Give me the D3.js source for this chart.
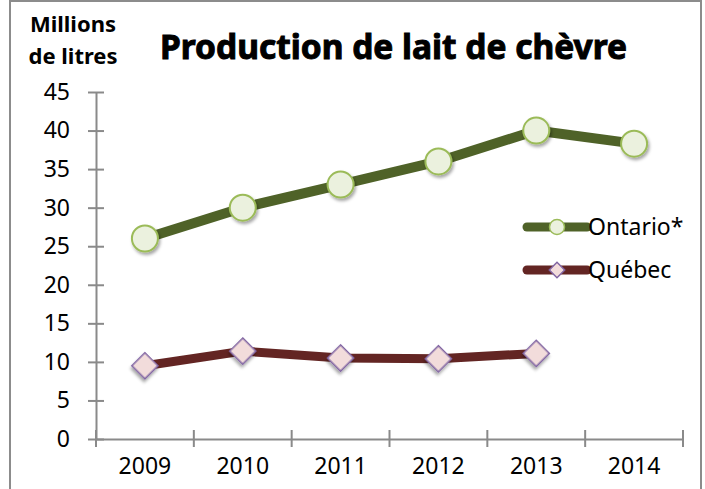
<!DOCTYPE html>
<html>
<head>
<meta charset="utf-8">
<script src="https://cdn.jsdelivr.net/npm/d3@7"></script>
<style>
  body { margin: 0; background: #fff; }
  text { font-family: "Noto Sans", sans-serif; fill: #000; }
</style>
</head>
<body>
<div id="chart"></div>
<script>
// data
var years = ['2009', '2010', '2011', '2012', '2013', '2014'];
var ontario = [26, 30, 33, 36, 40, 38.3];
var quebec = [9.5, 11.4, 10.5, 10.4, 11.1];
var yTicks = [0, 5, 10, 15, 20, 25, 30, 35, 40, 45];

var svgWidth = 705;
var svgHeight = 489;

var svg = d3.select('#chart')
    .append('svg')
    .attr('width', svgWidth)
    .attr('height', svgHeight);

// soft drop shadow for markers
var defs = svg.append('defs');
var shadow = defs.append('filter')
    .attr('id', 'shadow')
    .attr('x', '-50%').attr('y', '-50%')
    .attr('width', '200%').attr('height', '200%');
shadow.append('feDropShadow')
    .attr('dx', 1.5).attr('dy', 2.5)
    .attr('stdDeviation', 1.5)
    .attr('flood-color', '#000')
    .attr('flood-opacity', 0.35);

// chart border
svg.append('rect')
    .attr('x', 10).attr('y', 1)
    .attr('width', 691).attr('height', 500)
    .attr('fill', 'none')
    .attr('stroke', '#8c8c8c')
    .attr('stroke-width', 2);

var x = d3.scaleBand()
    .domain(years)
    .range([96, 683]);

var y = d3.scaleLinear()
    .domain([0, 45])
    .range([439, 92]);

var axisColor = '#8a8a8a';
var labelSize = 23;

// y axis
var yAxis = svg.append('g')
    .attr('transform', 'translate(96,0)')
    .call(d3.axisLeft(y).tickValues(yTicks).tickSize(0).tickPadding(26));
yAxis.select('.domain').attr('stroke', axisColor).attr('stroke-width', 2);
yAxis.selectAll('text')
    .attr('font-size', labelSize)
    .attr('font-family', '"Noto Sans", sans-serif')
    .attr('fill', '#000');
yAxis.selectAll('.tick').append('line')
    .attr('x1', -8).attr('x2', 8)
    .attr('stroke', axisColor).attr('stroke-width', 2);

// x axis
var xAxis = svg.append('g')
    .attr('transform', 'translate(0,439)')
    .call(d3.axisBottom(x).tickSize(0).tickPadding(19));
xAxis.select('.domain').attr('stroke', axisColor).attr('stroke-width', 2);
xAxis.selectAll('text')
    .attr('font-size', labelSize)
    .attr('font-family', '"Noto Sans", sans-serif')
    .attr('fill', '#000');
var bounds = years.map(function(d) { return x(d); }).concat([x.range()[1]]);
xAxis.selectAll('.bound')
    .data(bounds)
    .enter()
    .append('line')
    .attr('class', 'bound')
    .attr('x1', function(d) { return d; })
    .attr('x2', function(d) { return d; })
    .attr('y1', -9).attr('y2', 8)
    .attr('stroke', axisColor).attr('stroke-width', 2);

// axis title
var yTitle = svg.append('text')
    .attr('x', 73)
    .attr('text-anchor', 'middle')
    .attr('font-size', 22)
    .attr('font-weight', 'bold');
yTitle.append('tspan').attr('x', 73).attr('y', 32).text('Millions');
yTitle.append('tspan').attr('x', 73).attr('y', 64).text('de litres');

// chart title
svg.append('text')
    .attr('x', 160)
    .attr('y', 59)
    .attr('font-family', '"DejaVu Sans", sans-serif')
    .attr('font-size', 34)
    .attr('font-weight', 'bold')
    .attr('stroke', '#000')
    .attr('stroke-width', 1)
    .attr('textLength', 467)
    .attr('lengthAdjust', 'spacingAndGlyphs')
    .text('Production de lait de chèvre');

var cx = function(i) { return x(years[i]) + x.bandwidth() / 2; };

var line = d3.line()
    .x(function(d, i) { return cx(i); })
    .y(function(d) { return y(d); });

var diamond = d3.symbol().type(d3.symbolSquare).size(340);
var diamondSmall = d3.symbol().type(d3.symbolSquare).size(120);

// Québec
svg.append('path')
    .datum(quebec)
    .attr('d', line)
    .attr('fill', 'none')
    .attr('stroke', '#632523')
    .attr('stroke-width', 9)
    .attr('stroke-linejoin', 'round');

svg.selectAll('.qc')
    .data(quebec)
    .enter()
    .append('path')
    .attr('class', 'qc')
    .attr('d', diamond)
    .attr('transform', function(d, i) { return 'translate(' + cx(i) + ',' + y(d) + ') rotate(45)'; })
    .attr('fill', '#f2dcdb')
    .attr('stroke', '#8064a2')
    .attr('stroke-width', 1.5)
    .attr('filter', 'url(#shadow)');

// Ontario
svg.append('path')
    .datum(ontario)
    .attr('d', line)
    .attr('fill', 'none')
    .attr('stroke', '#4f6228')
    .attr('stroke-width', 10)
    .attr('stroke-linejoin', 'round');

svg.selectAll('.on')
    .data(ontario)
    .enter()
    .append('circle')
    .attr('class', 'on')
    .attr('cx', function(d, i) { return cx(i); })
    .attr('cy', function(d) { return y(d); })
    .attr('r', 13)
    .attr('fill', '#ebf1de')
    .attr('stroke', '#9bbb59')
    .attr('stroke-width', 2)
    .attr('filter', 'url(#shadow)');

// legend
var legend = svg.append('g');

legend.append('line')
    .attr('x1', 527).attr('x2', 587)
    .attr('y1', 227).attr('y2', 227)
    .attr('stroke', '#4f6228').attr('stroke-width', 9)
    .attr('stroke-linecap', 'round');
legend.append('circle')
    .attr('cx', 557).attr('cy', 227).attr('r', 7.5)
    .attr('fill', '#ebf1de').attr('stroke', '#9bbb59').attr('stroke-width', 1.5);
legend.append('text')
    .attr('x', 588).attr('y', 235)
    .attr('font-size', labelSize)
    .text('Ontario*');

legend.append('line')
    .attr('x1', 527).attr('x2', 587)
    .attr('y1', 270).attr('y2', 270)
    .attr('stroke', '#632523').attr('stroke-width', 9)
    .attr('stroke-linecap', 'round');
legend.append('path')
    .attr('d', diamondSmall)
    .attr('transform', 'translate(557,270) rotate(45)')
    .attr('fill', '#f2dcdb').attr('stroke', '#8064a2').attr('stroke-width', 1.5);
legend.append('text')
    .attr('x', 588).attr('y', 278)
    .attr('font-size', labelSize)
    .text('Québec');
</script>
</body>
</html>
